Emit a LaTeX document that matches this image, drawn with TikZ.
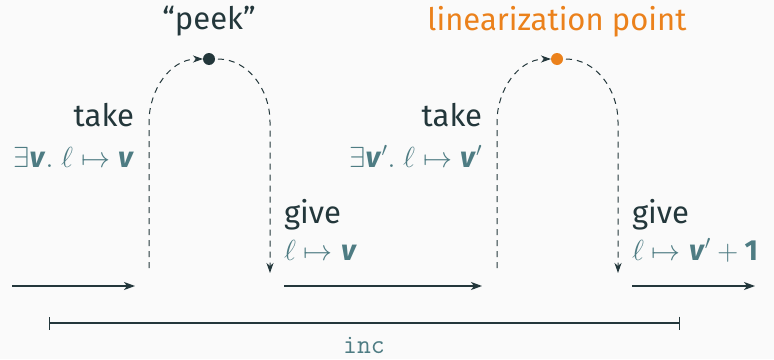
\RequirePackage{fix-cm}
\documentclass[tikz,border=0pt]{standalone}
\usepackage{fontspec}
\setmainfont{Fira Sans}
\usetikzlibrary{arrows.meta}

\definecolor{ink}{HTML}{23373B}
\definecolor{mathink}{HTML}{4E7C83}
\definecolor{alert}{HTML}{EB811B}
\definecolor{paper}{HTML}{FAFAFA}

\DeclareMathSizes{29}{29}{20}{14}
\newcommand{\vv}{\mbox{\textbf{\textit{v}}}}
\newcommand{\vp}{\mbox{\textbf{\textit{v}}}'}

\begin{document}
\begin{tikzpicture}[x=1pt,y=-1pt,
  every node/.style={inner sep=0pt,outer sep=0pt},
  lbl/.style={font=\fontsize{31}{36}\selectfont, text=ink},
  mth/.style={font=\fontsize{29}{34}\selectfont, text=mathink},
  flow/.style={draw=ink, line width=1.2pt, -{Stealth[length=11pt,width=8pt,inset=3pt]}},
  excursion/.style={draw=ink, line width=1pt, dash pattern=on 6pt off 5pt,
    -{Stealth[length=10pt,width=7pt,inset=3pt]}},
  event/.style={circle, minimum size=12pt},
]
  % canvas
  \fill[paper] (0,0) rectangle (774,359);
  \useasboundingbox (0,0) rectangle (774,359);

  % events at the top of each excursion
  \node[event, fill=ink] (peek) at (209,59) {};
  \node[event, fill=alert] (lin) at (557,59) {};
  \node[lbl, anchor=base] (peeklbl) at (209,29) {“peek”};
  \node[lbl, anchor=base, text=alert] (linlbl) at (557,30) {linearization point};

  % main timeline
  \coordinate (t0) at (12,286);
  \coordinate (t1) at (135,286);
  \coordinate (t2) at (284,286);
  \coordinate (t3) at (482,286);
  \coordinate (t4) at (632,286);
  \coordinate (t5) at (755,286);
  \draw[flow] (t0) -- (t1);
  \draw[flow] (t2) -- (t3);
  \draw[flow] (t4) -- (t5);

  % first excursion
  \coordinate (a0) at (149,268);
  \coordinate (a1) at (149,122);
  \coordinate (b1) at (270,122);
  \coordinate (b0) at (270,273);
  \draw[excursion] (a0) -- (a1) to[out=90,in=180] (peek.west);
  \draw[excursion, shorten <=3pt] (peek.east) to[out=0,in=90] (b1) -- (b0);

  % second excursion
  \coordinate (c0) at (497,268);
  \coordinate (c1) at (497,122);
  \coordinate (d1) at (618,122);
  \coordinate (d0) at (618,273);
  \draw[excursion] (c0) -- (c1) to[out=90,in=180] (lin.west);
  \draw[excursion, shorten <=3pt] (lin.east) to[out=0,in=90] (d1) -- (d0);

  % take / give annotations
  \node[lbl, anchor=base east] (take1) at (134,126) {take};
  \node[mth, anchor=base east] (pre1) at (134,167) {$\exists\vv.\ \ell\mapsto\vv$};
  \node[lbl, anchor=base west] (give1) at (284,223) {give};
  \node[mth, anchor=base west] (post1) at (284,260) {$\ell\mapsto\vv$};

  \node[lbl, anchor=base east] (take2) at (482,126) {take};
  \node[mth, anchor=base east] (pre2) at (482,167) {$\exists\vp.\ \ell\mapsto\vp$};
  \node[lbl, anchor=base west] (give2) at (632,223) {give};
  \node[mth, anchor=base west] (post2) at (632,260) {$\ell\mapsto\vp+\mbox{\textbf{1}}$};

  % extent of the operation
  \coordinate (i0) at (49,323);
  \coordinate (i1) at (680,323);
  \draw[ink, line width=1.2pt, {Bar[width=13pt]}-{Bar[width=13pt]}] (i0) -- (i1);
  \node[font=\fontsize{27}{32}\ttfamily, text=mathink, anchor=base] (inc) at (364,353) {inc};
\end{tikzpicture}
\end{document}
